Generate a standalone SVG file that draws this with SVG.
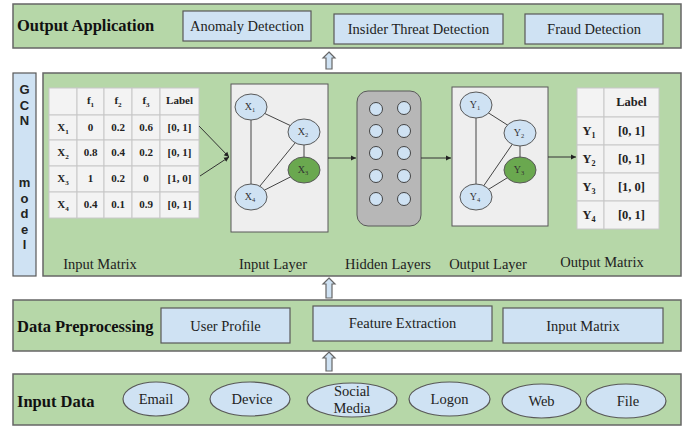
<svg xmlns="http://www.w3.org/2000/svg" width="697" height="428" viewBox="0 0 697 428">
<style>
.panel{fill:#b6d7a8;stroke:#666;stroke-width:1.5}
.box{fill:#cfe2f3;stroke:#595959;stroke-width:1.2}
.t{font-family:"Liberation Serif","Times New Roman",serif;font-size:14.5px;fill:#222;text-anchor:middle}
.h{font-family:"Liberation Serif","Times New Roman",serif;font-size:16.5px;font-weight:bold;fill:#111}
.g{font-family:"Liberation Sans",Arial,sans-serif;font-size:13px;font-weight:bold;fill:#222;text-anchor:middle}
.tb{font-family:"Liberation Serif","Times New Roman",serif;font-size:11px;font-weight:bold;fill:#222;text-anchor:middle}
.om{font-family:"Liberation Serif","Times New Roman",serif;font-size:12.5px;font-weight:bold;fill:#222;text-anchor:middle}
.nl{font-family:"Liberation Serif","Times New Roman",serif;font-size:10px;fill:#333;text-anchor:middle}
.cell{fill:#f3f3f3;stroke:#c8c8c8;stroke-width:1}
.node{fill:#cfe2f3;stroke:#595959;stroke-width:1}
.gn{fill:#6aa84f;stroke:#595959;stroke-width:1}
.edge{stroke:#444;stroke-width:1;fill:none}
.conn{stroke:#333;stroke-width:1;fill:none}
.up{fill:#cfe2f3;stroke:#666;stroke-width:1.2}
.hc{fill:#cfe2f3;stroke:#434343;stroke-width:1}
.sub{font-size:0.65em}
</style>
<defs>
<marker id="ah" markerWidth="6" markerHeight="6" refX="5" refY="3" orient="auto" markerUnits="userSpaceOnUse">
<path d="M0,0.5 L5,3 L0,5.5 Z" fill="#222"/>
</marker>
</defs>

<g id="output-application">
<rect class="panel" x="13" y="4" width="668" height="44"/>
<text class="h" x="17" y="31">Output Application</text>
<g id="anomaly-detection"><rect class="box" x="183" y="11" width="128" height="30"/><text class="t" x="247" y="31">Anomaly Detection</text></g>
<g id="insider-threat"><rect class="box" x="334" y="14" width="169" height="30"/><text class="t" x="418.5" y="34">Insider Threat Detection</text></g>
<g id="fraud-detection"><rect class="box" x="525" y="14" width="138" height="30"/><text class="t" x="594" y="34">Fraud Detection</text></g>
</g>

<g id="gcn-label">
<rect class="box" x="13" y="73" width="23" height="203" stroke="#666"/>
<text class="g" x="24.5" y="94">G</text>
<text class="g" x="24.5" y="109.5">C</text>
<text class="g" x="24.5" y="125">N</text>
<text class="g" x="24.5" y="187">m</text>
<text class="g" x="24.5" y="202.5">o</text>
<text class="g" x="24.5" y="218">d</text>
<text class="g" x="24.5" y="233.5">e</text>
<text class="g" x="24.5" y="249">l</text>
</g>

<g id="gcn-model">
<rect class="panel" x="43" y="73" width="638" height="203"/>
</g>

<g id="input-matrix">
<rect class="cell" x="49" y="88" width="28" height="27"/>
<rect class="cell" x="77" y="88" width="27" height="27"/>
<rect class="cell" x="104" y="88" width="28" height="27"/>
<rect class="cell" x="132" y="88" width="28" height="27"/>
<rect class="cell" x="160" y="88" width="39" height="27"/>
<rect class="cell" x="49" y="115" width="28" height="25"/>
<rect class="cell" x="77" y="115" width="27" height="25"/>
<rect class="cell" x="104" y="115" width="28" height="25"/>
<rect class="cell" x="132" y="115" width="28" height="25"/>
<rect class="cell" x="160" y="115" width="39" height="25"/>
<rect class="cell" x="49" y="140" width="28" height="26"/>
<rect class="cell" x="77" y="140" width="27" height="26"/>
<rect class="cell" x="104" y="140" width="28" height="26"/>
<rect class="cell" x="132" y="140" width="28" height="26"/>
<rect class="cell" x="160" y="140" width="39" height="26"/>
<rect class="cell" x="49" y="166" width="28" height="26"/>
<rect class="cell" x="77" y="166" width="27" height="26"/>
<rect class="cell" x="104" y="166" width="28" height="26"/>
<rect class="cell" x="132" y="166" width="28" height="26"/>
<rect class="cell" x="160" y="166" width="39" height="26"/>
<rect class="cell" x="49" y="192" width="28" height="26"/>
<rect class="cell" x="77" y="192" width="27" height="26"/>
<rect class="cell" x="104" y="192" width="28" height="26"/>
<rect class="cell" x="132" y="192" width="28" height="26"/>
<rect class="cell" x="160" y="192" width="39" height="26"/>
<text class="tb" x="90.5" y="104">f<tspan class="sub" dy="3">1</tspan></text>
<text class="tb" x="118" y="104">f<tspan class="sub" dy="3">2</tspan></text>
<text class="tb" x="146" y="104">f<tspan class="sub" dy="3">3</tspan></text>
<text class="tb" x="179.5" y="104">Label</text>
<text class="tb" x="63" y="131">X<tspan class="sub" dy="3">1</tspan></text>
<text class="tb" x="63" y="156">X<tspan class="sub" dy="3">2</tspan></text>
<text class="tb" x="63" y="182">X<tspan class="sub" dy="3">3</tspan></text>
<text class="tb" x="63" y="208">X<tspan class="sub" dy="3">4</tspan></text>
<text class="tb" x="90.5" y="131">0</text><text class="tb" x="118" y="131">0.2</text><text class="tb" x="146" y="131">0.6</text><text class="tb" x="179.5" y="131">[0, 1]</text>
<text class="tb" x="90.5" y="156">0.8</text><text class="tb" x="118" y="156">0.4</text><text class="tb" x="146" y="156">0.2</text><text class="tb" x="179.5" y="156">[0, 1]</text>
<text class="tb" x="90.5" y="182">1</text><text class="tb" x="118" y="182">0.2</text><text class="tb" x="146" y="182">0</text><text class="tb" x="179.5" y="182">[1, 0]</text>
<text class="tb" x="90.5" y="208">0.4</text><text class="tb" x="118" y="208">0.1</text><text class="tb" x="146" y="208">0.9</text><text class="tb" x="179.5" y="208">[0, 1]</text>
<text class="t" x="100" y="269">Input Matrix</text>
</g>

<g id="input-layer">
<rect x="231" y="84" width="97" height="148" fill="#eeeeee" stroke="#595959" stroke-width="1"/>
<line class="edge" x1="251" y1="107" x2="304" y2="132"/>
<line class="edge" x1="251" y1="107" x2="251" y2="197"/>
<line class="edge" x1="304" y1="132" x2="251" y2="197"/>
<line class="edge" x1="304" y1="132" x2="304" y2="170"/>
<line class="edge" x1="304" y1="170" x2="251" y2="197"/>
<ellipse class="node" cx="251" cy="107" rx="16" ry="13"/>
<ellipse class="node" cx="304" cy="132" rx="16" ry="13"/>
<ellipse class="gn" cx="304" cy="170" rx="16" ry="13"/>
<ellipse class="node" cx="251" cy="197" rx="16" ry="13"/>
<text class="nl" x="250" y="110">X<tspan class="sub" dy="2">1</tspan></text>
<text class="nl" x="303" y="135">X<tspan class="sub" dy="2">2</tspan></text>
<text class="nl" x="303" y="173">X<tspan class="sub" dy="2">3</tspan></text>
<text class="nl" x="250" y="200">X<tspan class="sub" dy="2">4</tspan></text>
<text class="t" x="273" y="269">Input Layer</text>
</g>

<g id="hidden-layers">
<rect x="357" y="91" width="64" height="135" rx="11" fill="#b7b7b7" stroke="#595959" stroke-width="1"/>
<circle class="hc" cx="376" cy="109" r="6.5"/><circle class="hc" cx="404" cy="108" r="6.5"/>
<circle class="hc" cx="376" cy="131" r="6.5"/><circle class="hc" cx="404" cy="131" r="6.5"/>
<circle class="hc" cx="376" cy="153" r="6.5"/><circle class="hc" cx="404" cy="153" r="6.5"/>
<circle class="hc" cx="376" cy="176" r="6.5"/><circle class="hc" cx="404" cy="176" r="6.5"/>
<circle class="hc" cx="376" cy="199" r="6.5"/><circle class="hc" cx="404" cy="199" r="6.5"/>
<text class="t" x="388" y="269">Hidden Layers</text>
</g>

<g id="output-layer">
<rect x="452" y="87" width="96" height="139" fill="#eeeeee" stroke="#595959" stroke-width="1"/>
<line class="edge" x1="476" y1="105" x2="520" y2="133"/>
<line class="edge" x1="476" y1="105" x2="476" y2="197"/>
<line class="edge" x1="520" y1="133" x2="476" y2="197"/>
<line class="edge" x1="520" y1="133" x2="520" y2="170"/>
<line class="edge" x1="520" y1="170" x2="476" y2="197"/>
<ellipse class="node" cx="476" cy="105" rx="16" ry="13"/>
<ellipse class="node" cx="520" cy="133" rx="16" ry="13"/>
<ellipse class="gn" cx="520" cy="170" rx="16" ry="13"/>
<ellipse class="node" cx="476" cy="197" rx="16" ry="13"/>
<text class="nl" x="475" y="108">Y<tspan class="sub" dy="2">1</tspan></text>
<text class="nl" x="519" y="136">Y<tspan class="sub" dy="2">2</tspan></text>
<text class="nl" x="519" y="173">Y<tspan class="sub" dy="2">3</tspan></text>
<text class="nl" x="475" y="200">Y<tspan class="sub" dy="2">4</tspan></text>
<text class="t" x="488" y="269">Output Layer</text>
</g>

<g id="output-matrix">
<rect class="cell" x="577" y="88" width="27" height="29"/>
<rect class="cell" x="604" y="88" width="55" height="29"/>
<rect class="cell" x="577" y="117" width="27" height="28"/>
<rect class="cell" x="604" y="117" width="55" height="28"/>
<rect class="cell" x="577" y="145" width="27" height="28"/>
<rect class="cell" x="604" y="145" width="55" height="28"/>
<rect class="cell" x="577" y="173" width="27" height="28"/>
<rect class="cell" x="604" y="173" width="55" height="28"/>
<rect class="cell" x="577" y="201" width="27" height="28"/>
<rect class="cell" x="604" y="201" width="55" height="28"/>
<text class="om" x="631.5" y="106">Label</text>
<text class="om" x="589" y="135">Y<tspan class="sub" dy="3">1</tspan></text>
<text class="om" x="589" y="163">Y<tspan class="sub" dy="3">2</tspan></text>
<text class="om" x="589" y="191">Y<tspan class="sub" dy="3">3</tspan></text>
<text class="om" x="589" y="219">Y<tspan class="sub" dy="3">4</tspan></text>
<text class="om" x="631.5" y="135">[0, 1]</text>
<text class="om" x="631.5" y="163">[0, 1]</text>
<text class="om" x="631.5" y="191">[1, 0]</text>
<text class="om" x="631.5" y="219">[0, 1]</text>
<text class="t" x="602" y="267">Output Matrix</text>
</g>

<g id="data-preprocessing">
<rect class="panel" x="13" y="300" width="668" height="51"/>
<text class="h" x="17" y="332">Data Preprocessing</text>
<g id="user-profile"><rect class="box" x="161" y="308" width="129" height="35"/><text class="t" x="225.5" y="331">User Profile</text></g>
<g id="feature-extraction"><rect class="box" x="313" y="306" width="179" height="35"/><text class="t" x="402.5" y="328">Feature Extraction</text></g>
<g id="input-matrix-box"><rect class="box" x="503" y="308" width="160" height="35"/><text class="t" x="583" y="331">Input Matrix</text></g>
</g>

<g id="input-data">
<rect class="panel" x="13" y="374" width="668" height="51"/>
<text class="h" x="17" y="407">Input Data</text>
<g id="email"><ellipse class="box" cx="156" cy="399" rx="33" ry="17"/><text class="t" x="156" y="404">Email</text></g>
<g id="device"><ellipse class="box" cx="250" cy="399" rx="40" ry="17"/><text class="t" x="252" y="404">Device</text></g>
<g id="social-media"><ellipse class="box" cx="352" cy="400" rx="45" ry="17"/><text class="t" x="352" y="396">Social</text><text class="t" x="352" y="413">Media</text></g>
<g id="logon"><ellipse class="box" cx="449.5" cy="399" rx="40.5" ry="17"/><text class="t" x="449.5" y="404">Logon</text></g>
<g id="web"><ellipse class="box" cx="541.5" cy="401" rx="39.5" ry="17"/><text class="t" x="541.5" y="406">Web</text></g>
<g id="file"><ellipse class="box" cx="626" cy="401" rx="40" ry="17"/><text class="t" x="628" y="406">File</text></g>
</g>

<g id="connectors">
<line class="conn" x1="199" y1="126" x2="229" y2="157" marker-end="url(#ah)"/>
<line class="conn" x1="200" y1="176" x2="229" y2="157" marker-end="url(#ah)"/>
<line class="conn" x1="328" y1="158" x2="356" y2="158" marker-end="url(#ah)"/>
<line class="conn" x1="421" y1="158" x2="451" y2="158" marker-end="url(#ah)"/>
<line class="conn" x1="548" y1="157" x2="576" y2="157" marker-end="url(#ah)"/>
<path class="up" d="M329,52 L335,58 L332,58 L332,69 L326,69 L326,58 L323,58 Z"/>
<path class="up" d="M329,278 L335,284 L332,284 L332,298 L326,298 L326,284 L323,284 Z"/>
<path class="up" d="M329,352 L335,358 L332,358 L332,371 L326,371 L326,358 L323,358 Z"/>
</g>
</svg>
